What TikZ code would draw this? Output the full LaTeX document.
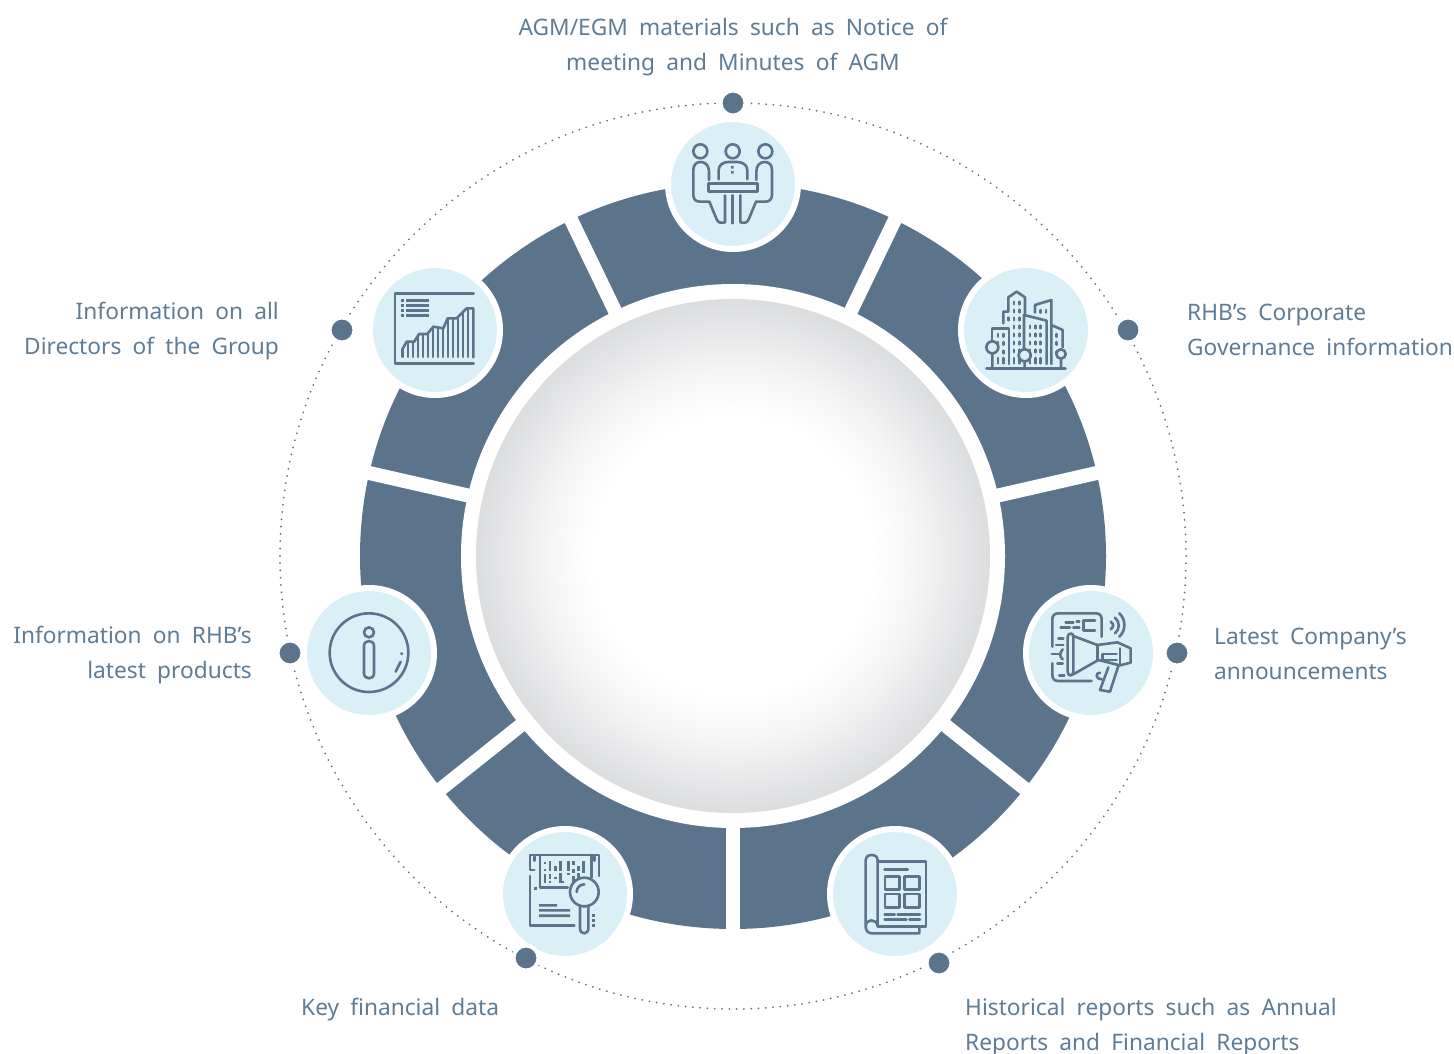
\documentclass[tikz,border=0pt]{standalone}
\usepackage{fontspec}
\setmainfont[WordSpace=1.9]{Noto Sans}
\usepackage{tikz}

\definecolor{ringblue}{HTML}{5B748C}
\definecolor{iconbg}{HTML}{DBEFF6}
\definecolor{labelblue}{HTML}{5F7C95}
\definecolor{sphereedge}{HTML}{DCDDDF}
\pgfdeclareradialshading{spherefill}{\pgfpointorigin}{%
  color(0bp)=(white); color(13.5bp)=(white); color(18bp)=(white!70!sphereedge);
  color(22bp)=(white!30!sphereedge); color(25bp)=(sphereedge); color(50bp)=(sphereedge)}

\tikzset{
  iconnode/.style={circle, fill=iconbg, draw=white, line width=6, minimum size=130, inner sep=0},
  dotnode/.style={circle, fill=ringblue, draw=white, line width=4, minimum size=25, inner sep=0},
  textlabel/.style={font=\fontsize{22.7}{34.5}\selectfont, text=labelblue, inner sep=0},
  gapline/.style={draw=white, line width=14},
  iconline/.style={draw=ringblue, line width=2.6, line join=round, line cap=round}
}

\begin{document}
\begin{tikzpicture}[x=1pt, y=-1pt]
\useasboundingbox (0,0) rectangle (1454,1054);

% ring
\draw[ringblue, line width=2, dash pattern=on 0pt off 7.3pt, line cap=round] (733,556) circle (453);
\fill[ringblue, even odd rule] (733,556) circle (373) (733,556) circle (271);
\foreach \a in {0,...,6} \draw[gapline] (733,556) -- ++({90+\a*360/7}:385);
\fill[white] (733,556) circle (272);
\shade[shading=spherefill] (733,556) circle (257);

% circles
\node (mtgicon) [iconnode] at (733,184) {};
\node (govicon) [iconnode] at (1026,330) {};
\node (annicon) [iconnode] at (1091,653) {};
\node (repicon) [iconnode] at (895,894) {};
\node (keyicon) [iconnode] at (565,894) {};
\node (prodicon) [iconnode] at (369,653) {};
\node (diricon) [iconnode] at (435,330) {};

\node (mtgdot) [dotnode] at (733,103) {};
\node (govdot) [dotnode] at (1128,330) {};
\node (anndot) [dotnode] at (1177,653) {};
\node (repdot) [dotnode] at (939,963) {};
\node (keydot) [dotnode] at (526,958) {};
\node (proddot) [dotnode] at (290,653) {};
\node (dirdot) [dotnode] at (342,330) {};

% labels
\node (mtgtext) [textlabel, align=center] at (733,47) {AGM/EGM materials such as Notice of\\meeting and Minutes of AGM};
\node (govtext) [textlabel, align=left, anchor=west] at (1187,330) {RHB’s Corporate\\Governance information};
\node (anntext) [textlabel, align=left, anchor=west] at (1214,654) {Latest Company’s\\announcements};
\node (reptext) [textlabel, align=left, anchor=west] at (965,1027) {Historical reports such as Annual\\Reports and Financial Reports};
\node (keytext) [textlabel, anchor=west] at (301,1010) {Key financial data};
\node (prodtext) [textlabel, align=right, anchor=east] at (252,655) {Information on RHB’s\\latest products};
\node (dirtext) [textlabel, align=right, anchor=east] at (279,331) {Information on all\\Directors of the Group};

% meeting
\begin{scope}[shift={(660,90)}, scale=1/3]
\foreach \x in {121,218,316} \draw[iconline] (\x,184) circle (21);
\draw[iconline] (147,270) -- (147,245) .. controls (147,225) and (135,216) .. (122,216) .. controls (108,216) and (100,225) .. (100,240) -- (100,315) .. controls (100,328) and (108,335) .. (120,335) -- (148,335) -- (170,388) .. controls (174,398) and (182,400) .. (195,397) -- (195,316);
\draw[iconline] (289,270) -- (289,245) .. controls (289,225) and (301,216) .. (314,216) .. controls (328,216) and (336,225) .. (336,240) -- (336,315) .. controls (336,328) and (328,335) .. (316,335) -- (288,335) -- (266,388) .. controls (262,398) and (254,400) .. (241,397) -- (241,316);
\draw[iconline] (176,268) -- (176,240) .. controls (176,225) and (190,216) .. (205,216) -- (232,216) .. controls (247,216) and (262,225) .. (262,240) -- (262,268);
\draw[iconline] (145,280) rectangle (292,305);
\draw[iconline] (217,316) -- (217,400);
\fill[ringblue] (213,228) rectangle (221,236) (213,243) rectangle (221,251);
\end{scope}

% buildings
\begin{scope}[shift={(950,260)}, scale=1/3]
\draw[iconline, line width=3] (110,326) -- (346,326);
\draw[iconline] (127,262) circle (18) (127,280) -- (127,326);
\draw[iconline] (224,286) circle (18) (224,304) -- (224,326);
\draw[iconline] (333,282) circle (14) (333,296) -- (333,326);
\draw[iconline] (160,190) -- (160,155) -- (175,155) -- (175,112) -- (200,95) -- (225,112) -- (225,160);
\draw[iconline] (222,265) -- (222,165) -- (290,182) -- (290,312);
\draw[iconline] (255,158) -- (255,135) -- (304,120) -- (304,312);
\draw[iconline] (304,195) -- (338,210) -- (338,262);
\draw[iconline] (126,240) -- (126,205) -- (177,205) -- (177,312);
\foreach \x in {192,208} \foreach \y in {129,153,177,201,225,249,273}
  \draw[iconline] (\x,\y-4) -- (\x,\y+4);
\draw[iconline] (176,173) -- (176,181);
\foreach \x in {240,256,272} \foreach \y in {201,225,249,273}
  \draw[iconline] (\x,\y-4) -- (\x,\y+4);
\foreach \x in {144,160} \foreach \y in {226,250}
  \draw[iconline] (\x,\y-4) -- (\x,\y+4);
\foreach \x in {272,288} \draw[iconline] (\x,150) -- (\x,158);
\foreach \y in {226,250} \draw[iconline] (320,\y-4) -- (320,\y+4);
\foreach \x in {144,160,192,208,240,256,272} \draw[iconline] (\x,294) -- (\x,310);
\draw[iconline] (320,275) -- (320,283);
\draw[iconline] (160,272) -- (160,280);
\end{scope}

% chart
\begin{scope}[shift={(365,260)}, scale=1/3]
\draw[iconline] (326,100) -- (90,100) -- (90,310) -- (326,310);
\foreach \y in {121,136,151,166} {
  \fill[ringblue] (108,\y-4) rectangle (117,\y+4);
  \fill[ringblue] (123,\y-4) rectangle (192,\y+4);
}
\begin{scope}
\clip (112,293) -- (112,268) -- (125,245) -- (148,245) -- (162,222) -- (187,222) -- (205,200) -- (235,205) -- (248,175) -- (275,175) -- (305,145) -- (325,145) -- (325,293) -- cycle;
\foreach \x in {113,128,...,323} \fill[ringblue] (\x-3.5,140) rectangle (\x+3.5,293);
\end{scope}
\draw[iconline] (112,290) -- (112,268) -- (125,245) -- (148,245) -- (162,222) -- (187,222) -- (205,200) -- (235,205) -- (248,175) -- (275,175) -- (305,145) -- (325,145) -- (325,292);
\end{scope}

% megaphone
\begin{scope}[shift={(1020,580)}, scale=1/3]
\draw[iconline] (245,170) -- (245,118) .. controls (245,106) and (238,100) .. (227,100) -- (115,100) .. controls (104,100) and (97,106) .. (97,118) -- (97,200);
\draw[iconline] (97,250) -- (97,285) .. controls (97,297) and (104,303) .. (115,303) -- (215,303);
\draw[iconline] (137,128) -- (160,128) (170,125) -- (178,125) (122,143) -- (150,143) (160,143) -- (178,143);
\draw[iconline] (225,122) -- (190,122) -- (190,152) -- (225,152);
\draw[iconline] (115,175) -- (130,175) (108,195) -- (130,195) (95,222) -- (118,222) (112,250) -- (128,250) (118,287) -- (133,287);
\draw[iconline] (143,170) .. controls (143,160) and (160,155) .. (160,170) -- (160,275) .. controls (160,290) and (143,290) .. (143,275) -- cycle;
\draw[iconline] (128,208) .. controls (118,222) and (118,228) .. (128,238);
\draw[iconline] (160,168) -- (232,195) -- (292,187) -- (332,205) -- (332,248) -- (300,256) -- (235,240) -- (160,283);
\draw[iconline] (232,195) -- (232,240) (300,205) -- (300,256);
\draw[iconline] (290,222) -- (247,222) -- (247,240) -- (290,240);
\draw[iconline] (240,278) .. controls (226,278) and (226,298) .. (245,298);
\draw[iconline] (265,262) -- (240,330) -- (270,335) -- (295,258);
\draw[iconline] (272,125) .. controls (282,132) and (282,140) .. (272,148);
\draw[iconline] (285,113) .. controls (300,125) and (300,148) .. (285,160);
\draw[iconline] (298,100) .. controls (318,118) and (318,152) .. (298,170);
\end{scope}

% report
\begin{scope}[shift={(825,820)}, scale=1/3]
\draw[iconline] (122,320) -- (122,122) .. controls (122,110) and (130,105) .. (140,105) .. controls (150,105) and (158,110) .. (158,122) -- (158,318) .. controls (155,295) and (122,295) .. (122,320) .. controls (122,332) and (130,340) .. (140,340) -- (283,340) -- (283,320);
\draw[iconline] (158,124) -- (303,124) -- (303,320) -- (158,320);
\draw[iconline, line width=3] (179,148) -- (248,148);
\draw[iconline] (180,170) rectangle (224,208) (238,170) rectangle (283,208) (180,222) rectangle (224,262) (238,222) rectangle (283,262);
\draw[iconline] (179,283) -- (209,283) (218,283) -- (285,283) (179,298) -- (244,298) (253,298) -- (285,298);
\end{scope}

% key data
\begin{scope}[shift={(495,820)}, scale=1/3]
\draw[iconline] (238,317) -- (105,317) -- (105,168);
\draw[iconline] (118,150) -- (105,150) -- (105,105) -- (312,105) -- (312,168);
\draw[iconline] (135,105) -- (135,203) -- (218,203) (290,105) -- (290,172);
\draw[iconline] (118,110) -- (118,122) (298,110) -- (298,122);
\fill[ringblue] (118,201) rectangle (126,209);
\foreach \x/\yo/\yt in {150/125/133, 150/146/154, 165/122/152, 181/138/154, 197/122/152, 150/162/190, 165/162/176, 165/184/190, 181/170/176, 197/160/190, 204/184/190, 220/122/152, 235/122/136, 235/146/160, 250/138/152, 250/160/176, 266/122/160, 235/168/190, 220/160/166}
  \fill[ringblue] (\x-4,\yo) rectangle (\x+4,\yt);
\fill[iconbg] (268,216) circle (43);
\draw[iconline] (268,216) circle (43);
\draw[iconline] (245,216) .. controls (245,203) and (255,193) .. (268,193);
\draw[iconline] (255,258) -- (255,325) .. controls (255,345) and (280,345) .. (280,325) -- (280,258);
\fill[ringblue] (132,252) rectangle (186,260) (132,267) rectangle (225,275) (132,283) rectangle (225,291);
\foreach \y in {286,301,316} \fill[ringblue] (291,\y-4) rectangle (299,\y+4);
\end{scope}

% info
\begin{scope}[shift={(300,580)}, scale=1/3]
\draw[iconline] (207,218) circle (118);
\draw[iconline] (207,157) circle (15);
\draw[iconline] (192,198) .. controls (192,178) and (222,178) .. (222,198) -- (222,280) .. controls (222,300) and (192,300) .. (192,280) -- cycle;
\fill[ringblue] (305,221) circle (5);
\draw[iconline] (287,275) -- (302,245);
\end{scope}
\end{tikzpicture}
\end{document}
